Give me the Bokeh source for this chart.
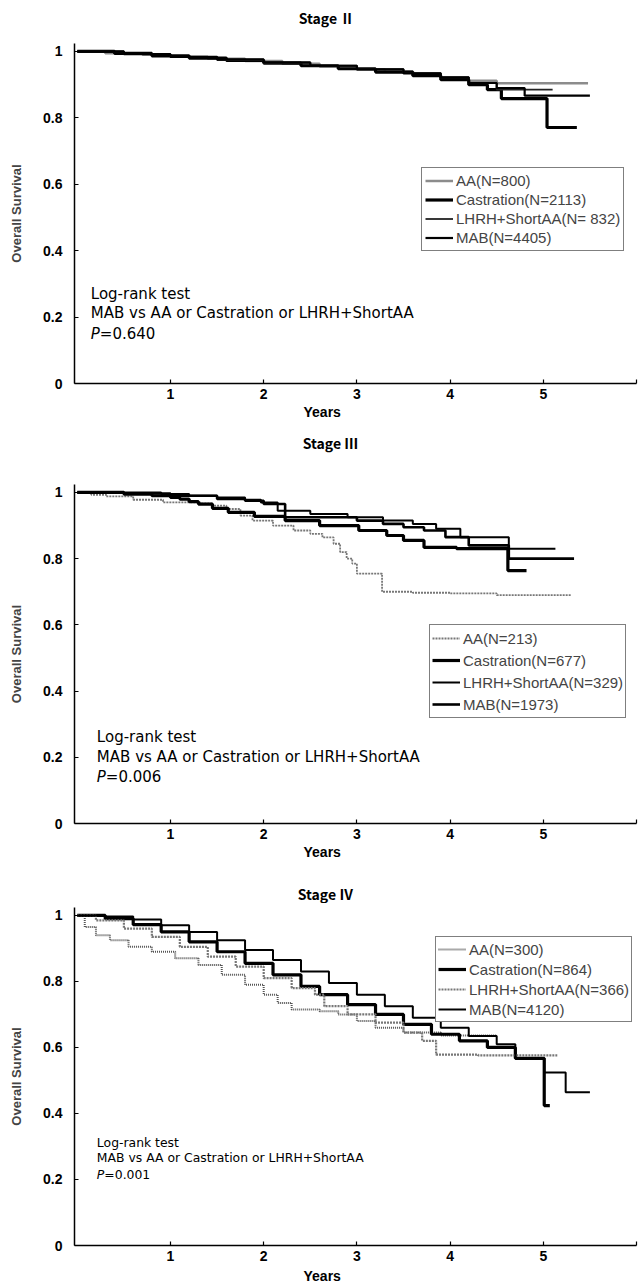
from bokeh.plotting import figure
from bokeh.layouts import column
from bokeh.models import Range1d, FixedTicker, Label, Legend, LegendItem, Title
from bokeh.embed import file_html
from bokeh.resources import INLINE

# ---------------- data ----------------
year_ticks = [1, 2, 3, 4, 5, 6]
surv_ticks = [0, 0.2, 0.4, 0.6, 0.8, 1]
surv_labels = ["0", "0.2", "0.4", "0.6", "0.8", "1"]

titles = ["Stage Ⅱ", "Stage Ⅲ", "Stage Ⅳ"]
series_names = ["AA", "Castration", "LHRH+ShortAA", "MAB"]
n_stage2 = ["800", "2113", " 832", "4405"]
n_stage3 = ["213", "677", "329", "1973"]
n_stage4 = ["300", "864", "366", "4120"]
p_values = ["0.640", "0.006", "0.001"]

# Stage II
s2_aa_t = [0, 0.3, 0.7, 1.0, 1.4, 1.8, 2.2, 2.6, 3.0, 3.3, 3.6, 3.9, 4.2, 4.5, 5.48]
s2_aa_s = [1, 0.995, 0.99, 0.984, 0.978, 0.971, 0.963, 0.955, 0.946, 0.94, 0.93, 0.921, 0.912, 0.904, 0.904]
s2_cas_t = [0, 0.4, 0.8, 1.2, 1.6, 2.0, 2.4, 2.8, 3.2, 3.6, 3.9, 4.2, 4.4, 4.55, 5.04, 5.36]
s2_cas_s = [1, 0.994, 0.987, 0.98, 0.973, 0.965, 0.957, 0.948, 0.938, 0.927, 0.915, 0.9, 0.885, 0.858, 0.771, 0.771]
s2_lhrh_t = [0, 0.5, 1.0, 1.5, 2.0, 2.5, 3.0, 3.5, 3.9, 4.2, 4.5, 5.1]
s2_lhrh_s = [1, 0.992, 0.983, 0.974, 0.966, 0.957, 0.947, 0.935, 0.922, 0.905, 0.885, 0.885]
s2_mab_t = [0, 0.5, 1.0, 1.5, 2.0, 2.5, 3.0, 3.5, 3.9, 4.2, 4.5, 4.8, 5.5]
s2_mab_s = [1, 0.992, 0.984, 0.976, 0.967, 0.957, 0.946, 0.934, 0.922, 0.905, 0.89, 0.867, 0.867]

# Stage III
s3_aa_t = [0, 0.15, 0.31, 0.6, 0.92, 1.32, 1.45, 1.6, 1.75, 1.88, 2.1, 2.32, 2.5, 2.63, 2.75, 2.82, 2.89, 2.95, 3.0, 3.27, 3.6, 4.0, 4.5, 5.3]
s3_aa_s = [1, 0.993, 0.988, 0.978, 0.97, 0.967, 0.96, 0.95, 0.93, 0.915, 0.9, 0.885, 0.875, 0.864, 0.845, 0.82, 0.80, 0.785, 0.755, 0.70, 0.697, 0.695, 0.69, 0.69]
s3_cas_t = [0, 0.5, 0.8, 1.0, 1.1, 1.2, 1.3, 1.45, 1.62, 1.9, 2.23, 2.6, 3.02, 3.32, 3.5, 3.72, 4.07, 4.62, 4.82]
s3_cas_s = [1, 0.995, 0.99, 0.985, 0.98, 0.972, 0.965, 0.952, 0.94, 0.928, 0.915, 0.9, 0.885, 0.87, 0.855, 0.834, 0.83, 0.764, 0.764]
s3_lhrh_t = [0, 0.5, 0.9, 1.2, 1.5, 1.8, 1.97, 2.15, 2.5, 2.9, 3.28, 3.6, 3.85, 4.11, 4.63, 5.13]
s3_lhrh_s = [1, 1.0, 0.995, 0.99, 0.985, 0.978, 0.97, 0.945, 0.935, 0.925, 0.915, 0.905, 0.89, 0.865, 0.83, 0.83]
s3_mab_t = [0, 0.5, 1.0, 1.5, 1.8, 2.0, 2.23, 2.8, 3.0, 3.28, 3.5, 3.72, 3.95, 4.2, 4.63, 5.33]
s3_mab_s = [1, 0.997, 0.99, 0.98, 0.975, 0.965, 0.925, 0.925, 0.915, 0.905, 0.895, 0.885, 0.865, 0.84, 0.80, 0.80]

# Stage IV
s4_aa_t = [0, 0.08, 0.2, 0.35, 0.55, 0.8, 1.05, 1.3, 1.55, 1.8, 2.0, 2.15, 2.3, 2.6, 2.8, 3.0, 3.2, 3.5, 3.9, 4.5]
s4_aa_s = [1, 0.965, 0.94, 0.925, 0.905, 0.89, 0.87, 0.85, 0.82, 0.79, 0.76, 0.735, 0.715, 0.71, 0.70, 0.68, 0.66, 0.645, 0.636, 0.636]
s4_cas_t = [0, 0.3, 0.6, 0.9, 1.2, 1.5, 1.8, 2.1, 2.4, 2.6, 2.9, 3.2, 3.5, 3.8, 4.1, 4.4, 4.7, 5.01, 5.07]
s4_cas_s = [1, 0.99, 0.972, 0.95, 0.92, 0.89, 0.855, 0.82, 0.785, 0.76, 0.73, 0.70, 0.67, 0.64, 0.62, 0.60, 0.567, 0.424, 0.424]
s4_lhrh_t = [0, 0.2, 0.5, 0.8, 1.1, 1.4, 1.7, 2.0, 2.3, 2.55, 2.65, 2.9, 3.2, 3.5, 3.7, 3.85, 4.3, 5.15]
s4_lhrh_s = [1, 0.985, 0.96, 0.935, 0.905, 0.875, 0.845, 0.81, 0.78, 0.76, 0.725, 0.70, 0.675, 0.645, 0.62, 0.578, 0.576, 0.576]
s4_mab_t = [0, 0.3, 0.6, 0.9, 1.2, 1.5, 1.8, 2.1, 2.4, 2.7, 3.0, 3.3, 3.6, 3.9, 4.2, 4.5, 4.7, 5.01, 5.24, 5.5]
s4_mab_s = [1, 0.997, 0.988, 0.97, 0.95, 0.925, 0.895, 0.865, 0.83, 0.795, 0.76, 0.725, 0.69, 0.66, 0.635, 0.61, 0.567, 0.524, 0.464, 0.464]

# ---------------- styling ----------------
FONT = "Liberation Sans"
TXT = "DejaVu Sans"
TITLE_FONT = "Noto Sans CJK JP"

styles = [
    [dict(line_color="#8c8c8c", line_width=2.5),
     dict(line_color="black", line_width=3.2),
     dict(line_color="#222222", line_width=1.8),
     dict(line_color="black", line_width=2.2)],
    [dict(line_color="#777777", line_width=1.8, line_dash="2 1"),
     dict(line_color="black", line_width=3.2),
     dict(line_color="black", line_width=2.0),
     dict(line_color="black", line_width=2.6)],
    [dict(line_color="#555555", line_width=2.0, line_dash="1 1"),
     dict(line_color="black", line_width=3.2),
     dict(line_color="#777777", line_width=2.2, line_dash="2 1"),
     dict(line_color="black", line_width=2.0)],
]


def make_header(text, height, cx, cy):
    """A strip holding one panel title; its frame spans the same pixels as the panels' frames."""
    h = figure(width=638, height=height, x_range=Range1d(74, 636), y_range=Range1d(0, height),
               x_axis_type=None, y_axis_type=None, output_backend="svg", toolbar_location=None,
               min_border_left=74, min_border_right=2, min_border_top=0, min_border_bottom=0)
    h.outline_line_color = None
    h.background_fill_color = "white"
    h.border_fill_color = "white"
    h.add_layout(Label(x=cx, y=cy, text=text, text_align="center", text_baseline="middle",
                       text_font=TITLE_FONT, text_font_style="bold", text_font_size="14px",
                       text_color="black"))
    return h


def make_panel(idx, height, b_top, b_bottom, curves, ns,
               years_standoff, legend_loc, legend_row, legend_pad, ann_x, ann_y, ann_size, pval):
    p = figure(width=638, height=height, x_range=Range1d(-0.03, 6.0), y_range=Range1d(0, 1.024),
               output_backend="svg", toolbar_location=None,
               min_border_left=74, min_border_right=2, min_border_top=b_top, min_border_bottom=b_bottom)
    p.outline_line_color = None
    p.grid.visible = False
    p.background_fill_color = "white"
    p.border_fill_color = "white"

    for ax in (p.xaxis, p.yaxis):
        ax.axis_line_width = 1.5
        ax.axis_line_color = "black"
        ax.major_tick_in = 4
        ax.major_tick_out = 0
        ax.major_tick_line_width = 1.2
        ax.minor_tick_line_color = None
        ax.major_label_text_font = FONT
        ax.major_label_text_font_style = "bold"
        ax.major_label_text_font_size = "14px"
        ax.major_label_text_color = "black"

    p.xaxis.ticker = FixedTicker(ticks=year_ticks)
    p.xaxis.major_label_overrides = {6: ""}
    p.xaxis.major_label_standoff = 5
    p.yaxis.ticker = FixedTicker(ticks=surv_ticks)
    p.yaxis.major_label_overrides = dict(zip(surv_ticks, surv_labels))
    p.yaxis.major_label_standoff = 12
    p.yaxis.axis_label = "Overall Survival"
    p.yaxis.axis_label_text_font = FONT
    p.yaxis.axis_label_text_font_style = "bold"
    p.yaxis.axis_label_text_font_size = "13px"
    p.yaxis.axis_label_standoff = 16

    items = []
    for (t, s), st, name, n in zip(curves, styles[idx], series_names, ns):
        r = p.step(x=t, y=s, mode="after", **st)
        items.append(LegendItem(label=f"{name}(N={n})", renderers=[r]))

    leg = Legend(items=items, location=legend_loc, margin=0, padding=legend_pad, spacing=0,
                 label_text_font=FONT, label_text_font_size="15px", label_standoff=3,
                 glyph_width=28, glyph_height=legend_row, label_height=legend_row,
                 border_line_color="black", border_line_width=1.3, background_fill_alpha=1.0)
    p.add_layout(leg)

    # x axis title
    p.add_layout(Title(text="Years", align="left", offset=229, standoff=years_standoff,
                       text_font=FONT, text_font_style="bold", text_font_size="14px",
                       text_color="black"), "below")
    # log-rank annotation
    lines = ["Log-rank test", "MAB vs AA or Castration or LHRH+ShortAA"]
    for txt, yy in zip(lines, ann_y[:2]):
        p.add_layout(Label(x=ann_x, y=yy, text=txt, text_baseline="middle", text_font=TXT,
                           text_font_size=ann_size, text_color="black"))
    p.add_layout(Label(x=ann_x, y=ann_y[2], text="P", text_baseline="middle", text_font=TXT,
                       text_font_style="italic", text_font_size=ann_size, text_color="black"))
    p.add_layout(Label(x=ann_x, y=ann_y[2], x_offset=9 if ann_size == "15px" else 7.5, text="=" + pval,
                       text_baseline="middle", text_font=TXT, text_font_size=ann_size, text_color="black"))
    return p


h1 = make_header(titles[0], 34, 326, 17)
p1 = make_panel(0, 392, 9, 43,
                [(s2_aa_t, s2_aa_s), (s2_cas_t, s2_cas_s), (s2_lhrh_t, s2_lhrh_s), (s2_mab_t, s2_mab_s)],
                n_stage2, 0, (347, 132), 19, 3, 0.145, [0.271, 0.211, 0.148], "15px", p_values[0])
h2 = make_header(titles[1], 30, 330, 14)
p2 = make_panel(1, 421, 28, 54,
                [(s3_aa_t, s3_aa_s), (s3_cas_t, s3_cas_s), (s3_lhrh_t, s3_lhrh_s), (s3_mab_t, s3_mab_s)],
                n_stage3, 0, (355, 105), 22, 2, 0.21, [0.26, 0.20, 0.139], "15px", p_values[1])
h3 = make_header(titles[2], 26, 325, 10)
p3 = make_panel(2, 383, 4, 41,
                [(s4_aa_t, s4_aa_s), (s4_cas_t, s4_cas_s), (s4_lhrh_t, s4_lhrh_s), (s4_mab_t, s4_mab_s)],
                n_stage4, 4, (361, 223), 20, 2, 0.21, [0.312, 0.267, 0.215], "12.4px", p_values[2])

layout = column(h1, p1, h2, p2, h3, p3, spacing=0)
open("out.html", "w").write(file_html(layout, INLINE))
